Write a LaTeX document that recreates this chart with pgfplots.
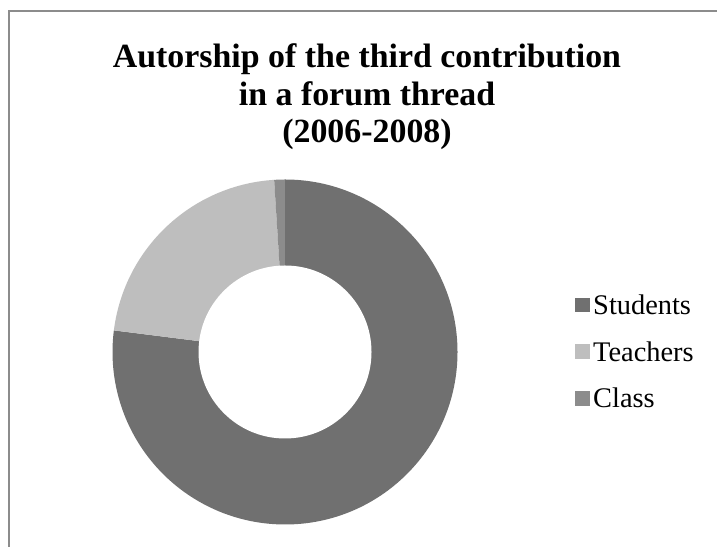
\documentclass[border=0pt]{standalone}
\usepackage{pgfplots}
\pgfplotsset{compat=1.18}
\usepackage{pgfplotstable}
\usepackage{fontspec}
\setmainfont{Liberation Serif}
\definecolor{cStud}{RGB}{112,112,112}
\definecolor{cTeach}{RGB}{190,190,190}
\definecolor{cClass}{RGB}{140,140,140}
\definecolor{cFrame}{RGB}{140,140,140}
\pgfplotstableread{
label value
Students 77
Teachers 22
Class 1
}\piedata
\begin{document}
\begin{tikzpicture}[x=1bp,y=1bp]
\useasboundingbox (0,0) rectangle (717,547);
\fill[white] (0,0) rectangle (717,547);
\draw[line width=2bp, cFrame] (9,-30) rectangle (760,535.5);
\pgfplotstablegetelem{0}{value}\of\piedata \let\vA\pgfplotsretval
\pgfplotstablegetelem{1}{value}\of\piedata \let\vB\pgfplotsretval
\pgfplotstablegetelem{2}{value}\of\piedata \let\vC\pgfplotsretval
\pgfmathsetmacro\tot{\vA+\vB+\vC}
\pgfmathsetmacro\aA{90-360*(\vA/\tot)}
\pgfmathsetmacro\aB{\aA-360*(\vB/\tot)}
\pgfmathsetmacro\aC{\aB-360*(\vC/\tot)}
\node[anchor=base, font=\bfseries\fontsize{34}{37.5}\selectfont, inner sep=0pt] at (367,479) {Autorship of the third contribution};
\node[anchor=base, font=\bfseries\fontsize{34}{37.5}\selectfont, inner sep=0pt] at (367,441) {in a forum thread};
\node[anchor=base, font=\bfseries\fontsize{34}{37.5}\selectfont, inner sep=0pt] at (367,404) {(2006-2008)};
\begin{axis}[
  at={(285bp,195bp)}, anchor=center,
  scale only axis, width=345bp, height=345bp,
  xmin=-1, xmax=1, ymin=-1, ymax=1,
  hide axis, clip=false,
  legend cell align=left,
  legend image code/.code={\fill[#1, draw=none] (0bp,-7bp) rectangle (14.5bp,7.5bp);},
  legend style={draw=none, fill=none, inner sep=0pt,
    at={(axis description cs:1.3406,0.5)}, anchor=west,
    font=\fontsize{28.5}{32}\selectfont, row sep=21.5bp,
    nodes={inner ysep=2bp, inner xsep=3.5bp}},
]
\fill[cStud] (axis cs:0,0) -- ++(90:172.5bp) arc[start angle=90, end angle=\aA, radius=172.5bp] -- cycle;
\fill[cTeach] (axis cs:0,0) -- ++(\aA:172.5bp) arc[start angle=\aA, end angle=\aB, radius=172.5bp] -- cycle;
\fill[cClass] (axis cs:0,0) -- ++(\aB:172.5bp) arc[start angle=\aB, end angle=\aC, radius=172.5bp] -- cycle;
\fill[white] (axis cs:0,0) circle[radius=86.5bp];
\addlegendimage{fill=cStud}
\addlegendentry{Students}
\addlegendimage{fill=cTeach}
\addlegendentry{Teachers}
\addlegendimage{fill=cClass}
\addlegendentry{Class}
\end{axis}
\end{tikzpicture}
\end{document}
